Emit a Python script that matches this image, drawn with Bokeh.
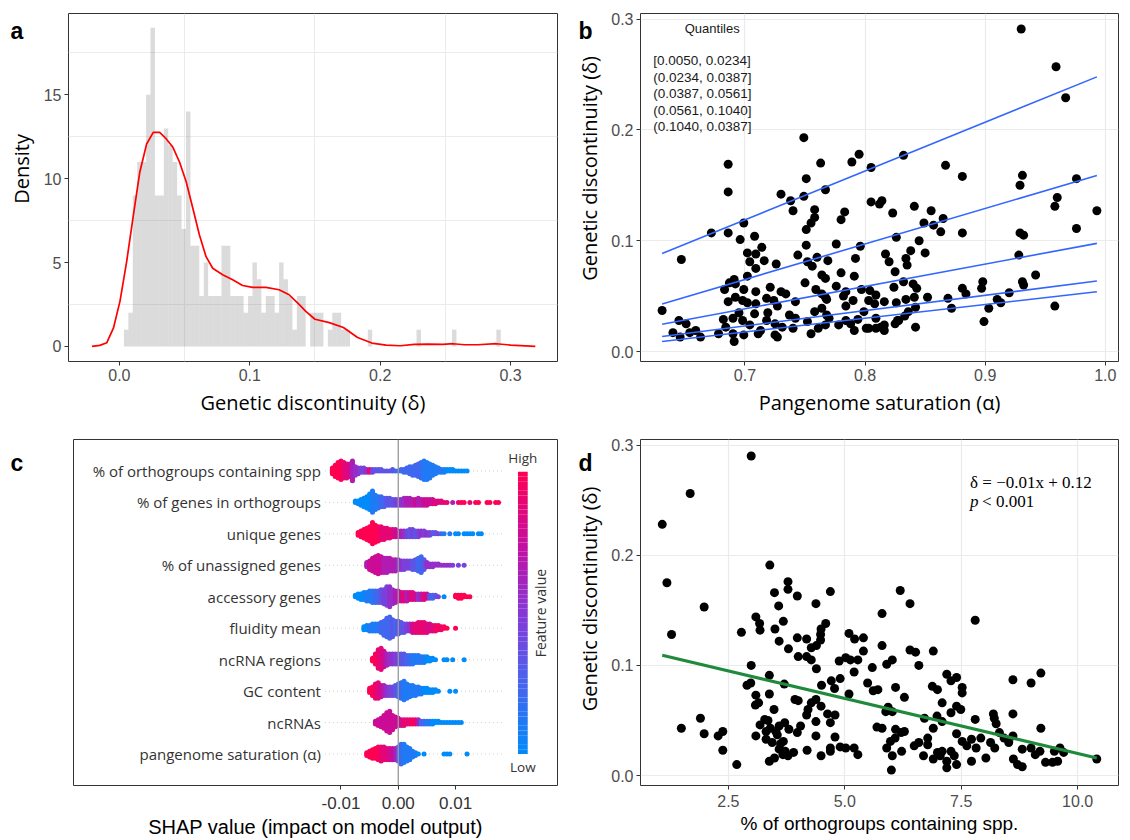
import math
from bokeh.plotting import figure
from bokeh.models import Range1d, FixedTicker, Label, CustomJSTickFormatter, Span
from bokeh.layouts import row, column
from bokeh.core.properties import value
from bokeh.embed import file_html
from bokeh.resources import INLINE

# ---------------- panel a: distribution of genetic discontinuity ----------------
hist_left = 0.0035
hist_width = 0.0034
hist_density = [1, 2, 9, 11, 11, 15, 19, 9, 9, 13, 12, 11, 9, 7, 14,
                6, 6, 3, 5, 3, 3, 3, 6, 6, 3, 3, 3, 2, 3, 5, 4, 2, 3, 3, 2, 5, 4, 3, 1, 3, 3,
                0, 2, 2, 2, 0, 1, 2, 2, 1, 1,
                0, 0, 0, 0, 1, 0, 0, 0, 0, 0, 0, 0, 0, 0, 0, 1,
                0, 0, 0, 0, 0, 0, 0, 1, 0, 0, 0, 0, 0, 0, 0, 0, 0, 1]
kde_x = [-0.021, -0.015, -0.0096, -0.0045, 0.0005, 0.0056, 0.0107, 0.0157, 0.0209, 0.026,
         0.0309, 0.036, 0.0411, 0.0462, 0.0513, 0.0564, 0.0614, 0.0665, 0.0716, 0.0792,
         0.0869, 0.0945, 0.1022, 0.1124, 0.1225, 0.1302, 0.138, 0.143, 0.150, 0.161,
         0.1718, 0.1827, 0.1936, 0.2045, 0.2154, 0.2263, 0.237, 0.248, 0.256, 0.2645,
         0.275, 0.289, 0.300, 0.319]
kde_y = [0.0, 0.06, 0.22, 1.1, 2.7, 5.06, 7.8, 10.4, 12.07, 12.76,
         12.76, 12.37, 11.87, 10.98, 9.8, 8.22, 6.64, 5.35, 4.66, 4.27,
         3.97, 3.63, 3.52, 3.52, 3.38, 3.08, 2.49, 2.09, 1.62, 1.42,
         1.13, 0.53, 0.2, 0.08, 0.04, 0.12, 0.14, 0.12, 0.16, 0.1,
         0.1, 0.16, 0.08, 0.0]
a_xticks = [0.0, 0.1, 0.2, 0.3]
a_yticks = [0, 5, 10, 15]

# ---------------- panel b: saturation vs discontinuity ----------------
saturation = [
    0.930, 0.959, 0.967, 0.749, 0.795, 0.832, 0.686, 0.763, 0.789, 0.867,
    0.805, 0.881, 0.931, 0.976, 0.751, 0.929, 0.767, 0.686, 0.730, 0.749,
    0.738, 0.805, 0.814, 0.960, 0.812, 0.841, 0.958, 0.740, 0.758, 0.783,
    0.855, 0.993, 0.823, 0.758, 0.780, 0.865, 0.857, 0.849, 0.755, 0.751,
    0.976, 0.672, 0.686, 0.699, 0.863, 0.881, 0.929, 0.932, 0.696, 0.708,
    0.826, 0.845, 0.714, 0.796, 0.751, 0.776, 0.702, 0.709, 0.838, 0.647,
    0.744, 0.817, 0.850, 0.704, 0.716, 0.726, 0.752, 0.760, 0.769, 0.820,
    0.834, 0.792, 0.835, 0.928, 0.709, 0.756, 0.825, 0.780, 0.942, 0.764,
    0.702, 0.767, 0.791, 0.898, 0.832, 0.840, 0.931, 0.932, 0.687, 0.691,
    0.750, 0.692, 0.776, 0.843, 0.824, 0.721, 0.759, 0.699, 0.683, 0.881,
    0.897, 0.920, 0.797, 0.730, 0.709, 0.734, 0.764, 0.784, 0.804, 0.809,
    0.884, 0.852, 0.841, 0.782, 0.767, 0.718, 0.724, 0.869, 0.910, 0.692,
    0.686, 0.698, 0.702, 0.709, 0.742, 0.768, 0.790, 0.803, 0.816, 0.826,
    0.834, 0.808, 0.913, 0.958, 0.631, 0.872, 0.903, 0.842, 0.727, 0.784,
    0.764, 0.758, 0.695, 0.708, 0.719, 0.737, 0.768, 0.799, 0.836, 0.645,
    0.651, 0.682, 0.690, 0.698, 0.718, 0.725, 0.742, 0.752, 0.770, 0.784,
    0.794, 0.809, 0.828, 0.899, 0.684, 0.704, 0.731, 0.767, 0.778, 0.788,
    0.801, 0.816, 0.825, 0.842, 0.640, 0.654, 0.659, 0.678, 0.690, 0.699,
    0.711, 0.725, 0.755, 0.791, 0.816, 0.646, 0.663, 0.727, 0.691, 0.713,
    0.740, 0.761, 0.803, 0.809, 0.813, 0.827, 0.833]
discontinuity_b = [
    0.291, 0.257, 0.229, 0.193, 0.178, 0.177, 0.169, 0.170, 0.171, 0.168,
    0.166, 0.158, 0.159, 0.156, 0.156, 0.150, 0.146, 0.144, 0.142, 0.140,
    0.136, 0.135, 0.136, 0.139, 0.133, 0.131, 0.131, 0.127, 0.128, 0.126,
    0.127, 0.127, 0.125, 0.121, 0.119, 0.120, 0.114, 0.116, 0.116, 0.110,
    0.111, 0.107, 0.107, 0.116, 0.108, 0.107, 0.107, 0.105, 0.101, 0.104,
    0.103, 0.100, 0.094, 0.095, 0.096, 0.097, 0.089, 0.088, 0.091, 0.083,
    0.087, 0.088, 0.089, 0.081, 0.082, 0.079, 0.081, 0.085, 0.082, 0.081,
    0.084, 0.084, 0.078, 0.087, 0.075, 0.077, 0.072, 0.071, 0.069, 0.069,
    0.068, 0.066, 0.068, 0.063, 0.063, 0.061, 0.063, 0.060, 0.062, 0.065,
    0.062, 0.061, 0.059, 0.057, 0.058, 0.058, 0.056, 0.056, 0.056, 0.057,
    0.057, 0.053, 0.056, 0.054, 0.054, 0.052, 0.052, 0.054, 0.055, 0.051,
    0.052, 0.049, 0.049, 0.050, 0.049, 0.048, 0.046, 0.048, 0.047, 0.049,
    0.045, 0.046, 0.044, 0.043, 0.045, 0.047, 0.046, 0.046, 0.045, 0.044,
    0.047, 0.043, 0.044, 0.041, 0.037, 0.039, 0.039, 0.040, 0.041, 0.041,
    0.039, 0.036, 0.035, 0.034, 0.035, 0.033, 0.033, 0.036, 0.036, 0.028,
    0.025, 0.029, 0.030, 0.028, 0.028, 0.025, 0.030, 0.027, 0.030, 0.028,
    0.029, 0.030, 0.028, 0.027, 0.022, 0.024, 0.022, 0.024, 0.024, 0.025,
    0.021, 0.024, 0.025, 0.022, 0.017, 0.017, 0.019, 0.016, 0.016, 0.015,
    0.016, 0.015, 0.016, 0.019, 0.019, 0.013, 0.013, 0.013, 0.009, 0.019,
    0.021, 0.021, 0.021, 0.021, 0.022, 0.028, 0.032]
quantile_labels = ["[0.0050, 0.0234]", "(0.0234, 0.0387]", "(0.0387, 0.0561]",
                   "(0.0561, 0.1040]", "(0.1040, 0.0387]"]
quantile_slopes = [0.4402, 0.3202, 0.2014, 0.1385, 0.1238]
quantile_intercepts = [-0.1893, -0.1591, -0.1024, -0.0739, -0.0690]
b_xticks = [0.7, 0.8, 0.9, 1.0]
delta_ticks = [0.0, 0.1, 0.2, 0.3]

# ---------------- panel c: SHAP summary ----------------
shap_features = ["% of orthogroups containing spp", "% of genes in orthogroups", "unique genes",
                 "% of unassigned genes", "accessory genes", "fluidity mean", "ncRNA regions",
                 "GC content", "ncRNAs", "pangenome saturation (\u03b1)"]
shap_bin = 0.0005
shap_start = [-0.0115, -0.0075, -0.0070, -0.0055, -0.0075, -0.0060, -0.0045, -0.0050, -0.0040, -0.0055]
shap_counts_orthogroups_spp = [5, 9, 12, 14, 12, 11, 10, 15, 7, 5, 4, 4, 3, 3, 3, 2, 2, 2, 1, 1, 1, 2, 1, 1,
                               2, 3, 4, 6, 7, 8, 10, 12, 14, 13, 11, 8, 6, 4, 3, 3, 2, 2, 2, 1, 1, 1, 1, 1]
shap_level_orthogroups_spp = [9, 9, 9, 9, 8, 8, 7, 6, 5, 5, 4, 4, 5, 8, 4, 3, 3, 3, 3, 3, 3, 3, 2, 2,
                              2, 2, 2, 2, 2, 2, 2, 2, 1, 1, 1, 1, 1, 1, 1, 1, 0, 0, 0, 0, 0, 0, 0, 0]
shap_counts_genes_orthogroups = [2, 3, 5, 7, 9, 12, 16, 11, 9, 8, 7, 6, 6, 5, 5, 5, 5, 6, 6, 6, 5, 5, 6, 5, 5, 5,
                                 4, 4, 3, 2, 2, 1, 1, 0, 1, 0, 1, 1, 1, 0, 1, 0, 1, 1, 0, 0, 1, 1, 0, 1, 1]
shap_level_genes_orthogroups = [0, 0, 0, 0, 0, 0, 1, 1, 1, 2, 2, 3, 3, 3, 4, 4, 5, 5, 6, 6, 6, 7, 6, 6, 7, 7,
                                7, 7, 8, 7, 8, 8, 8, 8, 6, 8, 8, 9, 9, 8, 8, 9, 9, 9, 9, 9, 9, 9, 9, 9, 9]
shap_counts_unique = [3, 5, 7, 9, 11, 16, 13, 11, 10, 9, 8, 7, 6, 6, 5, 5, 5, 5, 6, 6, 5, 5,
                      4, 4, 3, 3, 2, 2, 1, 1, 1, 0, 1, 0, 1, 1, 0, 1, 1, 1, 1, 0, 1, 1]
shap_level_unique = [9, 9, 9, 9, 9, 9, 9, 9, 8, 8, 8, 8, 8, 7, 7, 6, 5, 4, 3, 4, 3, 4,
                     5, 4, 5, 4, 3, 3, 4, 2, 1, 1, 1, 1, 0, 0, 0, 0, 0, 0, 0, 0, 0, 0]
shap_counts_unassigned = [4, 7, 10, 12, 14, 12, 11, 11, 10, 9, 9, 8, 7, 7, 6, 6, 7, 8,
                          10, 12, 8, 4, 3, 3, 2, 2, 1, 1, 1, 1, 1, 0, 1, 0, 1]
shap_level_unassigned = [6, 7, 7, 7, 7, 7, 6, 6, 6, 6, 6, 5, 5, 4, 4, 4, 3, 3,
                         2, 2, 3, 5, 5, 5, 5, 5, 5, 5, 5, 5, 4, 4, 4, 4, 4]
shap_counts_accessory = [2, 4, 5, 6, 7, 8, 9, 9, 9, 10, 11, 14, 15, 11, 9, 8, 7, 7, 7, 6, 6,
                         5, 5, 5, 5, 4, 3, 3, 2, 1, 0, 1, 0, 0, 0, 2, 3, 3, 2, 1, 1]
shap_level_accessory = [0, 0, 0, 0, 1, 1, 1, 2, 2, 3, 4, 4, 5, 5, 6, 6, 7, 8, 6, 7, 8,
                        7, 5, 6, 8, 7, 3, 2, 3, 4, 0, 0, 0, 0, 0, 9, 9, 9, 9, 9, 9]
shap_counts_fluidity = [3, 4, 5, 6, 6, 6, 8, 11, 14, 16, 13, 10, 10, 8, 7, 6, 6,
                        7, 7, 8, 8, 8, 7, 6, 5, 5, 4, 3, 2, 1, 0, 0, 1]
shap_level_fluidity = [0, 0, 1, 1, 1, 1, 2, 2, 2, 2, 3, 2, 3, 3, 3, 4, 5,
                       7, 8, 8, 8, 8, 8, 7, 8, 8, 9, 8, 9, 9, 0, 0, 9]
shap_counts_ncrna_regions = [3, 8, 14, 16, 12, 9, 8, 8, 8, 8, 8, 8, 7, 7, 7, 6, 6,
                             5, 5, 4, 3, 2, 1, 0, 0, 1, 1, 0, 1, 0, 0, 0, 1]
shap_level_ncrna_regions = [9, 9, 8, 8, 7, 6, 5, 5, 4, 4, 3, 3, 2, 2, 1, 1, 1,
                            1, 1, 0, 0, 0, 0, 0, 0, 0, 0, 0, 0, 0, 0, 0, 0]
shap_counts_gc = [4, 7, 11, 12, 9, 8, 7, 7, 7, 8, 10, 12, 14, 11, 9, 8,
                  7, 6, 5, 4, 4, 3, 3, 2, 1, 0, 0, 0, 1, 0, 1]
shap_level_gc = [9, 9, 8, 8, 7, 6, 5, 4, 4, 3, 2, 2, 1, 1, 1, 1,
                 1, 1, 1, 0, 0, 0, 0, 0, 0, 0, 0, 0, 0, 0, 0]
shap_counts_ncrnas = [3, 5, 7, 10, 14, 16, 11, 8, 6, 5, 5, 4, 4, 4, 4, 4,
                      3, 3, 3, 3, 3, 2, 2, 1, 1, 1, 1, 1, 1, 1, 1]
shap_level_ncrnas = [7, 7, 7, 7, 7, 7, 7, 7, 7, 7, 8, 8, 8, 9, 8, 6,
                     2, 2, 1, 1, 0, 0, 0, 0, 0, 0, 0, 0, 0, 0, 0]
shap_counts_saturation = [3, 5, 7, 8, 10, 11, 10, 9, 9, 9, 9, 11, 15, 14, 11, 9, 5, 3,
                          1, 0, 1, 0, 0, 0, 0, 0, 0, 1, 1, 1, 0, 0, 0, 0, 0, 1]
shap_level_saturation = [9, 9, 9, 9, 9, 8, 8, 8, 7, 7, 6, 3, 2, 1, 1, 1, 1, 1,
                         0, 0, 0, 0, 0, 0, 0, 0, 0, 0, 0, 0, 0, 0, 0, 0, 0, 0]
shap_counts = [shap_counts_orthogroups_spp, shap_counts_genes_orthogroups, shap_counts_unique,
               shap_counts_unassigned, shap_counts_accessory, shap_counts_fluidity,
               shap_counts_ncrna_regions, shap_counts_gc, shap_counts_ncrnas, shap_counts_saturation]
shap_levels = [shap_level_orthogroups_spp, shap_level_genes_orthogroups, shap_level_unique,
               shap_level_unassigned, shap_level_accessory, shap_level_fluidity,
               shap_level_ncrna_regions, shap_level_gc, shap_level_ncrnas, shap_level_saturation]
c_xticks = [-0.01, 0.0, 0.01]

# ---------------- panel d: orthogroup share vs discontinuity ----------------
orthogroup_pct = [
    2.99, 1.68, 1.08, 1.18, 3.39, 1.98, 1.28, 3.78, 3.78, 3.49,
    3.98, 4.69, 6.19, 6.40, 4.38, 3.58, 5.80, 3.09, 3.17, 3.68,
    4.59, 7.80, 3.50, 4.49, 3.18, 2.78, 5.09, 4.48, 3.59, 3.98,
    4.18, 4.48, 5.21, 5.40, 3.79, 4.28, 4.39, 5.80, 5.40, 6.40,
    6.52, 6.90, 4.00, 4.18, 4.28, 4.88, 5.02, 5.12, 5.28, 5.90,
    6.02, 6.59, 2.99, 4.39, 5.59, 5.20, 3.38, 4.90, 7.19, 7.40,
    9.21, 9.00, 8.61, 2.90, 2.98, 3.70, 4.71, 4.50, 4.78, 5.49,
    5.61, 5.71, 6.09, 6.88, 6.99, 7.28, 7.52, 7.52, 3.09, 3.38,
    5.09, 6.28, 3.93, 4.00, 3.08, 3.15, 4.28, 4.38, 4.49, 7.09,
    7.40, 7.49, 5.93, 5.88, 3.48, 4.21, 4.63, 4.79, 4.18, 8.61,
    8.19, 7.28, 6.02, 6.71, 6.98, 7.09, 7.80, 8.21, 8.25, 9.21,
    1.90, 1.49, 1.98, 2.38, 2.28, 2.38, 2.68, 3.09, 3.18, 3.28,
    3.31, 3.40, 3.52, 3.59, 3.71, 3.80, 3.98, 3.31, 3.44, 3.68,
    3.59, 3.38, 3.49, 3.67, 3.78, 3.90, 4.19, 4.38, 4.38, 4.69,
    4.79, 4.69, 4.69, 4.49, 4.90, 5.02, 5.20, 5.28, 5.69, 5.80,
    5.90, 5.98, 6.08, 6.09, 6.21, 6.28, 6.02, 6.00, 6.49, 6.59,
    6.69, 6.78, 6.78, 6.90, 6.90, 6.99, 7.09, 7.19, 7.19, 7.28,
    7.40, 7.40, 7.52, 7.62, 7.72, 7.72, 7.82, 7.92, 8.03, 8.13,
    8.22, 8.32, 8.42, 8.52, 8.61, 8.62, 8.71, 8.81, 8.81, 9.00,
    9.09, 9.19, 9.31, 9.46, 9.50, 9.57, 9.62, 9.70, 10.41, 3.35,
    3.55, 3.62, 3.72, 4.05, 6.22, 7.05, 7.35]
discontinuity_d = [
    0.290, 0.256, 0.228, 0.175, 0.191, 0.153, 0.128, 0.176, 0.169, 0.166,
    0.163, 0.167, 0.168, 0.156, 0.156, 0.154, 0.147, 0.144, 0.138, 0.140,
    0.138, 0.141, 0.133, 0.133, 0.132, 0.130, 0.129, 0.128, 0.122, 0.125,
    0.124, 0.123, 0.124, 0.125, 0.115, 0.116, 0.118, 0.118, 0.113, 0.114,
    0.112, 0.113, 0.108, 0.108, 0.105, 0.104, 0.107, 0.105, 0.105, 0.101,
    0.105, 0.100, 0.100, 0.097, 0.098, 0.094, 0.091, 0.088, 0.092, 0.089,
    0.093, 0.084, 0.087, 0.082, 0.084, 0.083, 0.086, 0.082, 0.079, 0.084,
    0.077, 0.078, 0.080, 0.081, 0.078, 0.086, 0.080, 0.075, 0.073, 0.074,
    0.074, 0.071, 0.069, 0.068, 0.064, 0.066, 0.066, 0.069, 0.063, 0.066,
    0.063, 0.060, 0.062, 0.058, 0.060, 0.060, 0.056, 0.055, 0.055, 0.056,
    0.056, 0.057, 0.058, 0.052, 0.054, 0.049, 0.051, 0.052, 0.047, 0.043,
    0.052, 0.043, 0.038, 0.040, 0.036, 0.023, 0.010, 0.036, 0.046, 0.051,
    0.040, 0.043, 0.040, 0.045, 0.048, 0.042, 0.039, 0.033, 0.030, 0.031,
    0.024, 0.013, 0.016, 0.019, 0.018, 0.021, 0.023, 0.036, 0.049, 0.048,
    0.035, 0.025, 0.022, 0.018, 0.026, 0.025, 0.025, 0.019, 0.044, 0.043,
    0.025, 0.031, 0.034, 0.042, 0.039, 0.040, 0.018, 0.005, 0.027, 0.030,
    0.018, 0.034, 0.028, 0.043, 0.015, 0.021, 0.022, 0.007, 0.013, 0.022,
    0.010, 0.038, 0.031, 0.027, 0.033, 0.013, 0.025, 0.034, 0.016, 0.030,
    0.025, 0.039, 0.034, 0.030, 0.036, 0.015, 0.010, 0.024, 0.008, 0.025,
    0.019, 0.022, 0.012, 0.012, 0.022, 0.013, 0.025, 0.021, 0.015, 0.050,
    0.037, 0.029, 0.022, 0.045, 0.022, 0.018, 0.018]
fit_slope = -0.01
fit_intercept = 0.12
d_xticks = [2.5, 5.0, 7.5, 10.0]

TICK_FONT = "Liberation Sans"
TITLE_FONT = "Open Sans"
ROW_H = 420


def make_fig(width, height, xr, yr, border):
    left, right, top, bottom = border
    p = figure(width=width, height=height, x_range=Range1d(*xr), y_range=Range1d(*yr),
               output_backend="svg", toolbar_location=None,
               min_border_left=left, min_border_right=right,
               min_border_top=top, min_border_bottom=bottom)
    p.outline_line_color = "#333333"
    p.outline_line_width = 1
    p.background_fill_color = "white"
    p.border_fill_color = "white"
    return p


def style_axis(ax, ticks, digits, tick_size="16px", tick_color="#4d4d4d",
               title_font=TITLE_FONT, title_size="20px", standoff=6):
    ax.ticker = FixedTicker(ticks=ticks)
    ax.formatter = CustomJSTickFormatter(code="return tick.toFixed(%d);" % digits)
    ax.axis_line_color = None
    ax.major_tick_line_color = "#333333"
    ax.major_tick_out = 4
    ax.major_tick_in = 0
    ax.minor_tick_line_color = None
    ax.major_label_text_font = TICK_FONT
    ax.major_label_text_font_size = tick_size
    ax.major_label_text_color = tick_color
    ax.major_label_standoff = 3
    ax.axis_label_text_font = title_font
    ax.axis_label_text_font_size = title_size
    ax.axis_label_text_font_style = "normal"
    ax.axis_label_text_color = "black"
    ax.axis_label_standoff = standoff


def side_strip(width, letter, letter_x, letter_y, title=None, title_x=0, title_y=0):
    """Narrow strip left of a panel: panel letter and (rotated) y-axis title."""
    s = figure(width=width, height=ROW_H, x_range=Range1d(0, width), y_range=Range1d(0, ROW_H),
               output_backend="svg", toolbar_location=None, min_border=0,
               x_axis_location=None, y_axis_location=None)
    s.outline_line_color = None
    s.background_fill_color = "white"
    s.border_fill_color = "white"
    s.grid.visible = False
    s.text(x=[letter_x], y=[ROW_H - letter_y], text=[letter], text_font=value(TICK_FONT),
           text_font_style="bold", text_font_size="23px", text_align="left",
           text_baseline="middle", text_color="black")
    if title:
        s.text(x=[title_x], y=[ROW_H - title_y], text=[title], angle=math.pi / 2,
               text_font=value(TITLE_FONT), text_font_size="20px", text_align="center",
               text_baseline="middle", text_color="black")
    return s


# ---- a ----
strip_a = side_strip(40, "a", 10, 21, "Density", 21, 187.5)
pa = make_fig(520, ROW_H, (-0.039, 0.336), (-0.9, 19.85), (28, 3, 13, 58))
style_axis(pa.xaxis[0], a_xticks, 1, standoff=5)
style_axis(pa.yaxis[0], a_yticks, 0)
pa.xaxis.axis_label = "Genetic discontinuity (\u03b4)"
pa.xgrid.ticker = FixedTicker(ticks=[0.05, 0.15, 0.25])
pa.ygrid.ticker = FixedTicker(ticks=[2.5, 7.5, 12.5, 17.5])
pa.xgrid.grid_line_color = "#ebebeb"
pa.ygrid.grid_line_color = "#ebebeb"
lefts = [hist_left + i * hist_width for i in range(len(hist_density))]
rights = [l + hist_width for l in lefts]
pa.quad(left=lefts, right=rights, bottom=0, top=hist_density,
        fill_color="#7f7f7f", fill_alpha=0.28, line_color=None)
pa.line(kde_x, kde_y, line_color="red", line_width=1.7)

# ---- b ----
strip_b = side_strip(46, "b", 18, 21, "Genetic discontinuity (\u03b4)", 29, 187)
pb = make_fig(524, ROW_H, (0.613, 1.011), (-0.009, 0.305), (34, 12, 13, 59))
style_axis(pb.xaxis[0], b_xticks, 1, standoff=5)
style_axis(pb.yaxis[0], delta_ticks, 1)
pb.xaxis.axis_label = "Pangenome saturation (\u03b1)"
for g in (pb.xgrid, pb.ygrid):
    g.grid_line_color = "#ebebeb"
    g.grid_line_width = 1.2
pb.scatter(saturation, discontinuity_b, size=9, fill_color="black", line_color=None)
a_lo, a_hi = min(saturation), max(saturation)
for s, c in zip(quantile_slopes, quantile_intercepts):
    pb.line([a_lo, a_hi], [c + s * a_lo, c + s * a_hi], line_color="#3366ff", line_width=1.6)
pb.add_layout(Label(x=0.6727, y=0.2915, text="Quantiles", text_align="center",
                    text_baseline="middle", text_font=TICK_FONT, text_font_size="13px",
                    text_color="#1a1a1a"))
for i, lab in enumerate(quantile_labels):
    pb.add_layout(Label(x=0.6236, y=0.2626 - i * 0.0149, text=lab, text_align="left",
                        text_baseline="middle", text_font=TICK_FONT, text_font_size="13.5px",
                        text_color="#1a1a1a"))

# ---- c ----
def shap_color(v):
    stops = [(0.0, (0, 139, 250)), (0.25, (72, 100, 238)), (0.5, (134, 56, 214)),
             (0.75, (198, 14, 158)), (1.0, (255, 0, 82))]
    for (t0, c0), (t1, c1) in zip(stops[:-1], stops[1:]):
        if v <= t1:
            f = (v - t0) / (t1 - t0)
            rgb = [round(a + (b - a) * f) for a, b in zip(c0, c1)]
            return "#%02x%02x%02x" % tuple(rgb)
    return "#ff0052"


strip_c = side_strip(40, "c", 10, 28)
pc = make_fig(520, ROW_H, (-0.0567, 0.0278), (0.0, 11.0), (33, 3, 17, 52))
style_axis(pc.xaxis[0], c_xticks, 2, tick_size="17px", tick_color="#333333",
           title_font=TICK_FONT, title_size="20px", standoff=4)
pc.xaxis.major_label_standoff = 7
pc.xaxis.axis_label = "SHAP value (impact on model output)"
pc.yaxis.visible = False
pc.xgrid.grid_line_color = None
pc.ygrid.grid_line_color = None

row_y = [10 - i for i in range(len(shap_features))]
pc.segment(x0=-0.0128, x1=0.0183, y0=row_y, y1=row_y, line_color="#cccccc",
           line_width=1, line_dash="1 3")
pc.add_layout(Span(location=0, dimension="height", line_color="#999999", line_width=1.3))

layer_step = 0.045
sx, sy, scol = [], [], []
for yc, start, counts, levels in zip(row_y, shap_start, shap_counts, shap_levels):
    for k, (n, lev) in enumerate(zip(counts, levels)):
        xv = start + k * shap_bin
        for j in range(n):
            off = ((j + 1) // 2) * (1 if j % 2 else -1) * layer_step
            sx.append(xv)
            sy.append(yc + off)
            scol.append(shap_color(lev / 9))
pc.scatter(sx, sy, size=5, fill_color=scol, line_color=None)
pc.text(x=[-0.0135] * len(shap_features), y=row_y, text=shap_features, text_align="right",
        text_baseline="middle", text_font=value(TITLE_FONT), text_font_size="15px",
        text_color="#333333")

# colour bar for the feature value
nseg = 60
cb_lo, cb_hi = 1.0, 9.97
seg_h = (cb_hi - cb_lo) / nseg
pc.quad(left=0.0209, right=0.0226,
        bottom=[cb_lo + i * seg_h for i in range(nseg)],
        top=[cb_lo + (i + 1) * seg_h + 0.001 for i in range(nseg)],
        fill_color=[shap_color((i + 0.5) / nseg) for i in range(nseg)], line_color=None)
pc.text(x=[0.02175, 0.02175], y=[10.42, 0.58], text=["High", "Low"], text_align="center",
        text_baseline="middle", text_font=value(TITLE_FONT), text_font_size="13.5px",
        text_color="#333333")
pc.text(x=[0.0249], y=[5.48], text=["Feature value"], angle=math.pi / 2, text_align="center",
        text_baseline="middle", text_font=value(TITLE_FONT), text_font_size="14px",
        text_color="#333333")

# ---- d ----
strip_d = side_strip(46, "d", 18, 28, "Genetic discontinuity (\u03b4)", 29, 193.5)
pd_ = make_fig(524, ROW_H, (0.613, 10.877), (-0.009, 0.305), (34, 12, 19, 52))
style_axis(pd_.xaxis[0], d_xticks, 1, title_font=TICK_FONT, title_size="19px", standoff=3)
pd_.xaxis.major_label_standoff = 5
style_axis(pd_.yaxis[0], delta_ticks, 1)
pd_.xaxis.axis_label = "% of orthogroups containing spp."
for g in (pd_.xgrid, pd_.ygrid):
    g.grid_line_color = "#ebebeb"
    g.grid_line_width = 1.2
pd_.scatter(orthogroup_pct, discontinuity_d, size=9, fill_color="black", line_color=None)
o_lo, o_hi = min(orthogroup_pct), max(orthogroup_pct)
pd_.line([o_lo, o_hi], [fit_intercept + fit_slope * o_lo, fit_intercept + fit_slope * o_hi],
         line_color="#1f8a3c", line_width=3.2)
pd_.add_layout(Label(x=7.69, y=0.2663, text="\u03b4 = \u2212%.2fx + %.2f" % (abs(fit_slope), fit_intercept),
                     text_baseline="middle", text_font="Liberation Serif", text_font_size="17px",
                     text_color="black"))
pd_.add_layout(Label(x=7.69, y=0.2483, text="p", text_baseline="middle",
                     text_font="Liberation Serif", text_font_style="italic",
                     text_font_size="17px", text_color="black"))
pd_.add_layout(Label(x=7.69, y=0.2483, x_offset=12, text="< 0.001", text_baseline="middle",
                     text_font="Liberation Serif", text_font_size="17px", text_color="black"))

layout = column(row(strip_a, pa, strip_b, pb), row(strip_c, pc, strip_d, pd_))
open("out.html", "w").write(file_html(layout, INLINE))
